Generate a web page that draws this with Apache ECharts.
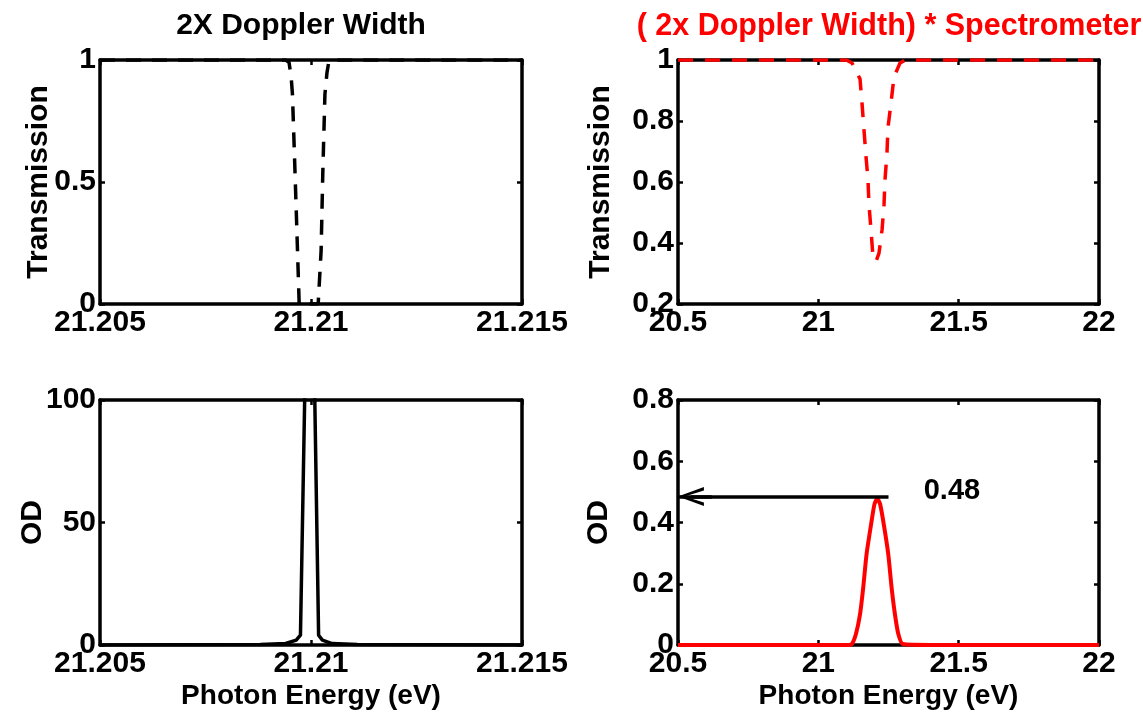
<!DOCTYPE html>
<html>
<head>
<meta charset="utf-8">
<script src="https://cdn.jsdelivr.net/npm/echarts@6.0.0/dist/echarts.min.js"></script>
<style>
  html, body { margin: 0; padding: 0; background: #fff; }
  #chart { width: 1143px; height: 712px; }
</style>
</head>
<body>
<div id="chart"></div>
<script>
// tick values
const narrowTicks = [21.205, 21.21, 21.215];
const wideTicks = [20.5, 21, 21.5, 22];
const transTicks = [0, 0.5, 1];
const convTransTicks = [0.2, 0.4, 0.6, 0.8, 1];
const odTicks = [0, 50, 100];
const convOdTicks = [0, 0.2, 0.4, 0.6, 0.8];

// top left: transmission, 2x doppler width
const dopplerEnergy = [21.205, 21.2094, 21.20948, 21.20953, 21.20956, 21.20961, 21.20966, 21.20972,
  21.21017, 21.21024, 21.21028, 21.21033, 21.21038, 21.21042, 21.2105, 21.215];
const dopplerTrans = [1, 1, 0.99, 0.93, 0.86, 0.6, 0.33, 0, 0, 0.22, 0.54, 0.86, 0.95, 0.99, 1, 1];

// bottom left: OD (clipped at 100)
const odEnergy = [21.205, 21.2088, 21.2094, 21.20965, 21.20975, 21.20985, 21.20997, 21.21009,
  21.21018, 21.21027, 21.2105, 21.2111, 21.215];
const odValues = [0, 0.2, 0.6, 2, 4, 100, 230, 100, 4, 2, 0.6, 0.2, 0];

// top right: transmission convolved with spectrometer
const convEnergy = [20.5, 21.1, 21.12, 21.1485, 21.1556, 21.1627, 21.170, 21.1769, 21.1805, 21.1876,
  21.1948, 21.2055, 21.2162, 21.227, 21.234, 21.2375, 21.2446, 21.248, 21.2589, 21.2696, 21.291, 21.31, 22];
const convTrans = [1, 1, 0.99, 0.938, 0.859, 0.77, 0.682, 0.607, 0.525, 0.443,
  0.354, 0.34, 0.367, 0.443, 0.525, 0.607, 0.695, 0.777, 0.859, 0.944, 0.99, 1, 1];

// bottom right: OD convolved
const convOdEnergy = [20.5, 21.0, 21.1, 21.119, 21.134, 21.1485, 21.16, 21.172, 21.19, 21.2,
  21.21, 21.22, 21.231, 21.249, 21.261, 21.273, 21.285, 21.301, 21.4, 22];
const convOdValues = [0, 0, 0, 0.003, 0.036, 0.10, 0.188, 0.298, 0.406, 0.46,
  0.478, 0.46, 0.406, 0.298, 0.188, 0.10, 0.036, 0.003, 0, 0];

// annotation
const peakArrow = { from: 21.25, to: 20.5, y: 0.485 };
const peakLabel = { text: '0.48', x: 21.476, y: 0.502 };

const font = { fontFamily: 'Liberation Sans, Arial, sans-serif', fontWeight: 'bold', color: '#000' };
const pairs = (xs, ys) => xs.map((x, i) => [x, ys[i]]);
const step = t => +(t[1] - t[0]).toFixed(6);
const fmt = v => String(+v.toFixed(4));

const axisLine = { show: true, onZero: false, lineStyle: { color: '#000', width: 3.5 } };
const axisTick = { show: true, inside: true, length: 5, lineStyle: { color: '#000', width: 2.5 } };

function xAxes(grid, ticks, name) {
  const base = {
    type: 'value', gridIndex: grid, min: ticks[0], max: ticks[ticks.length - 1], interval: step(ticks),
    axisLine, axisTick, splitLine: { show: false }
  };
  const bottom = Object.assign({}, base, {
    position: 'bottom',
    axisLabel: Object.assign({ fontSize: 30, margin: 4, formatter: fmt }, font)
  });
  if (name) {
    Object.assign(bottom, { name, nameLocation: 'middle', nameGap: 37, nameMoveOverlap: false,
      nameTextStyle: Object.assign({ fontSize: 28 }, font) });
  }
  return [bottom, Object.assign({}, base, { position: 'top', axisLabel: { show: false } })];
}

function yAxes(grid, ticks, name, gap) {
  const base = {
    type: 'value', gridIndex: grid, min: ticks[0], max: ticks[ticks.length - 1], interval: step(ticks),
    axisLine, axisTick, splitLine: { show: false }
  };
  return [
    Object.assign({}, base, {
      position: 'left',
      axisLabel: Object.assign({ fontSize: 30, margin: 4, formatter: fmt }, font),
      name, nameLocation: 'middle', nameGap: gap, nameMoveOverlap: false,
      nameTextStyle: Object.assign({ fontSize: 30 }, font)
    }),
    Object.assign({}, base, { position: 'right', axisLabel: { show: false } })
  ];
}

const chart = echarts.init(document.getElementById('chart'));

chart.setOption({
  animation: false,
  title: [
    { text: '2X Doppler Width', left: 296, top: 6, textAlign: 'center',
      textStyle: Object.assign({ fontSize: 30 }, font) },
    { text: '( 2x Doppler Width) * Spectrometer', left: 884, top: 6, textAlign: 'center',
      textStyle: Object.assign({}, font, { fontSize: 30.5, color: '#ff0000' }) }
  ],
  grid: [
    { left: 100, top: 60, width: 422, height: 244, outerBoundsMode: 'none' },
    { left: 678, top: 60, width: 421, height: 244, outerBoundsMode: 'none' },
    { left: 100, top: 400, width: 422, height: 245, outerBoundsMode: 'none' },
    { left: 678, top: 400, width: 421, height: 245, outerBoundsMode: 'none' }
  ],
  xAxis: [
    ...xAxes(0, narrowTicks),
    ...xAxes(1, wideTicks),
    ...xAxes(2, narrowTicks, 'Photon Energy (eV)'),
    ...xAxes(3, wideTicks, 'Photon Energy (eV)')
  ],
  yAxis: [
    ...yAxes(0, transTicks, 'Transmission', 46),
    ...yAxes(1, convTransTicks, 'Transmission', 62),
    ...yAxes(2, odTicks, 'OD', 52),
    ...yAxes(3, convOdTicks, 'OD', 64)
  ],
  series: [
    {
      type: 'line', xAxisIndex: 0, yAxisIndex: 0, data: pairs(dopplerEnergy, dopplerTrans),
      showSymbol: false, lineStyle: { color: '#000', width: 3.5, type: [15, 11] }
    },
    {
      type: 'line', xAxisIndex: 2, yAxisIndex: 2, data: pairs(convEnergy, convTrans),
      showSymbol: false, lineStyle: { color: '#ff0000', width: 3.5, type: [15, 12] }
    },
    {
      type: 'line', xAxisIndex: 4, yAxisIndex: 4, data: pairs(odEnergy, odValues),
      showSymbol: false, clip: true, lineStyle: { color: '#000', width: 3.5 }
    },
    {
      type: 'line', xAxisIndex: 6, yAxisIndex: 6, data: pairs(convOdEnergy, convOdValues),
      showSymbol: false, smooth: 0.2, lineStyle: { color: '#ff0000', width: 4 },
      markLine: {
        silent: true,
        symbol: ['none', 'none'],
        lineStyle: { color: '#000', width: 3.5, type: 'solid' },
        label: { show: false },
        data: [
          [{ coord: [peakArrow.from, peakArrow.y] }, { coord: [peakArrow.to, peakArrow.y] }],
          [{ coord: [peakArrow.to + 0.12, peakArrow.y], symbol: 'none' },
           { coord: [peakArrow.to + 0.046, peakArrow.y],
             symbol: 'path://M50,0 L100,100 L82,100 L50,26 L18,100 L0,100 Z', symbolSize: [19, 26] }]
        ]
      },
      markPoint: {
        silent: true,
        symbol: 'circle', symbolSize: 1,
        itemStyle: { color: 'rgba(0,0,0,0)' },
        label: Object.assign({ show: true, position: 'inside', fontSize: 29, formatter: peakLabel.text }, font),
        data: [{ coord: [peakLabel.x, peakLabel.y] }]
      }
    }
  ]
});
</script>
</body>
</html>
